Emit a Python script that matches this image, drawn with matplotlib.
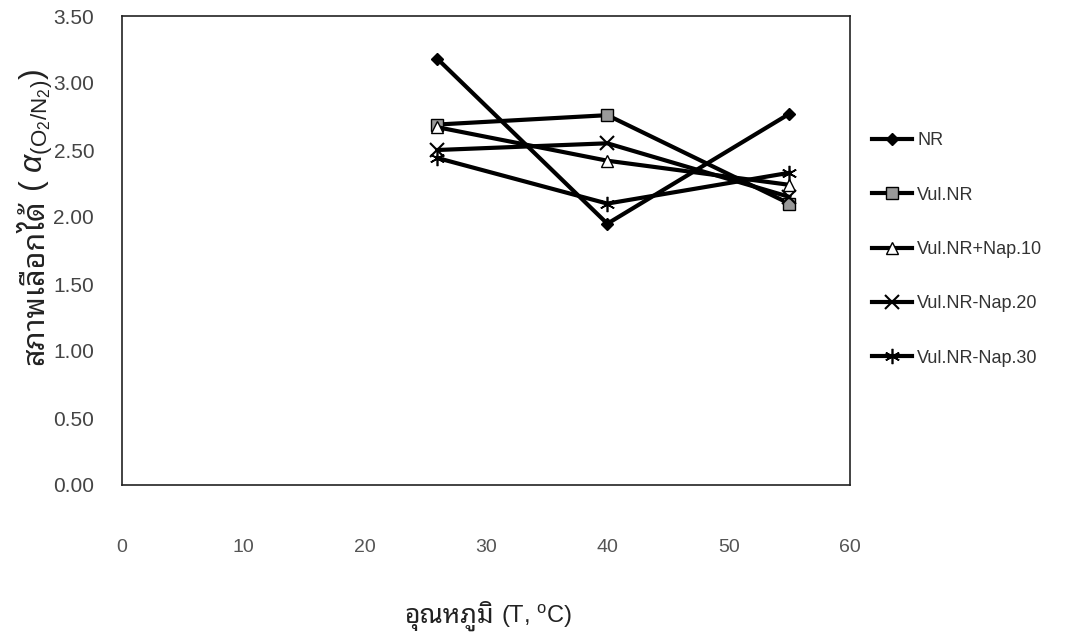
import numpy as np
import matplotlib.pyplot as plt
from matplotlib import font_manager

# Data
temps = [26, 40, 55]
nr = [3.18, 1.95, 2.77]
vul_nr = [2.69, 2.76, 2.10]
nap10 = [2.67, 2.42, 2.24]
nap20 = [2.50, 2.55, 2.15]
nap30 = [2.44, 2.10, 2.33]
labels = ['NR', 'Vul.NR', 'Vul.NR+Nap.10', 'Vul.NR-Nap.20', 'Vul.NR-Nap.30']
xticks = [0, 10, 20, 30, 40, 50, 60]
yticks = [0.0, 0.5, 1.0, 1.5, 2.0, 2.5, 3.0, 3.5]

# pick a Thai font that is installed
installed = {f.name for f in font_manager.fontManager.ttflist}
thai_font = 'DejaVu Sans'
for name in ['Noto Sans Thai Looped', 'Noto Sans Thai', 'Sarabun', 'Anuphan', 'Athiti']:
    if name in installed:
        thai_font = name
        break

plt.rcParams['font.family'] = ['Liberation Sans', 'DejaVu Sans']
plt.rcParams['mathtext.fontset'] = 'custom'
plt.rcParams['mathtext.rm'] = 'Liberation Sans'
plt.rcParams['mathtext.it'] = 'Liberation Sans:italic'

W, H = 1085, 634
fig = plt.figure(figsize=(W / 100, H / 100), dpi=100)
ax = fig.add_axes([122 / W, 1 - 485 / H, 728 / W, 469 / H])

styles = [
    dict(marker='D', markersize=6, markerfacecolor='black', markeredgecolor='black'),
    dict(marker='s', markersize=9, markerfacecolor='#999999', markeredgecolor='black'),
    dict(marker='^', markersize=9, markerfacecolor='white', markeredgecolor='black'),
    dict(marker='x', markersize=10, markeredgewidth=1.5, markeredgecolor='black'),
    dict(marker=(6, 2, 0), markersize=11, markeredgewidth=1.2, markeredgecolor='black'),
]
series = [nr, vul_nr, nap10, nap20, nap30]
for ys, lab, st in zip(series, labels, styles):
    ax.plot(temps, ys, color='black', linewidth=3, label=lab, **st)

ax.set_xlim(0, 60)
ax.set_ylim(0, 3.5)
ax.set_xticks(xticks)
ax.set_yticks(yticks)
ax.set_xticklabels([str(t) for t in xticks])
ax.set_yticklabels([f'{v:.2f}' for v in yticks])
ax.tick_params(axis='x', length=0, pad=39, labelsize=14, labelcolor='#555555')
ax.tick_params(axis='y', length=0, pad=20, labelsize=15, labelcolor='#444444')
for s in ax.spines.values():
    s.set_linewidth(1.2)
    s.set_color('#222222')

ax.legend(loc='upper left', bbox_to_anchor=(1.008, 0.787), frameon=False,
          fontsize=13, labelspacing=2.07, handlelength=2.2, handletextpad=0.3,
          labelcolor='#333333')

# axis titles: Thai part and Latin/math part as separate texts
renderer = fig.canvas.get_renderer()

# x title, centred under the axes
xt1 = fig.text(0, 0, 'อุณหภูมิ', family=[thai_font], fontsize=19,
               ha='left', va='baseline', color='#222222')
xt2 = fig.text(0, 0, r'(T, $^{\mathrm{o}}$C)', fontsize=17,
               ha='left', va='baseline', color='#222222')
w1 = xt1.get_window_extent(renderer).width
w2 = xt2.get_window_extent(renderer).width
gap = 7
x0 = 488 - (w1 + gap + w2) / 2
base = H - 623
xt1.set_position((x0 / W, base / H))
xt2.set_position(((x0 + w1 + gap) / W, base / H))

# y title, rotated
yt1 = fig.text(0, 0, 'สภาพเลือกได้', family=[thai_font], fontsize=22,
               rotation=90, rotation_mode='anchor', ha='left', va='baseline',
               color='#222222')
yt2 = fig.text(0, 0, r'( $\alpha_{(\mathrm{O_2/N_2})}$)', fontsize=23,
               rotation=90, rotation_mode='anchor', ha='left', va='baseline',
               color='#222222')
h1 = yt1.get_window_extent(renderer).height
h2 = yt2.get_window_extent(renderer).height
y0 = H - 365
bx = 43
yt1.set_position((bx / W, y0 / H))
yt2.set_position((bx / W, (y0 + h1 + gap) / H))

fig.savefig('out.png', dpi=100)
